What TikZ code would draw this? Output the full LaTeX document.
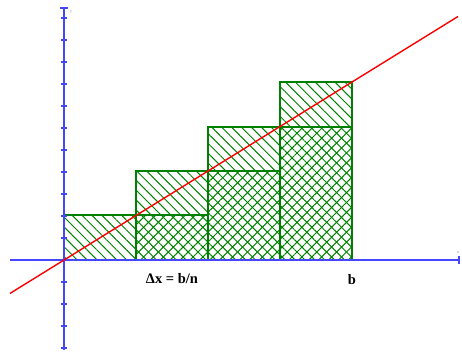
\documentclass[tikz,border=0pt]{standalone}
\usepackage{fontspec}
\setmainfont{Liberation Serif}
\usetikzlibrary{patterns.meta}
\definecolor{axblue}{RGB}{70,70,255}
\definecolor{hgreen}{RGB}{0,128,0}
\definecolor{lred}{RGB}{255,0,0}
\tikzset{
  axisline/.style={draw=axblue, line width=1.4pt},
  tickmark/.style={draw=axblue, line width=1.1pt},
  boxline/.style={draw=hgreen, line width=1.3pt},
  hatchA/.style={pattern={Lines[angle=-45,distance=7pt,line width=1pt]}, pattern color=hgreen},
  hatchB/.style={pattern={Lines[angle=45,distance=7pt,line width=1pt]}, pattern color=hgreen},
  fnline/.style={draw=lred, line width=1.4pt},
  lbl/.style={font=\bfseries\fontsize{14.5}{16}\selectfont, inner sep=0pt},
  axlbl/.style={font=\fontsize{4}{5}\selectfont, text=gray, inner sep=0pt}
}
\begin{document}
\begin{tikzpicture}[x=1pt,y=-1pt]
\useasboundingbox (0,0) rectangle (462,351);
% coordinates
\coordinate (O) at (64,260);
\coordinate (xl) at (10,260);
\coordinate (xr) at (459,260);
\coordinate (yt) at (64,8);
\coordinate (yb) at (64,350);
% upper rectangles (right endpoints)
\path[hatchA] (64,260) rectangle (136,215);
\path[hatchA] (136,260) rectangle (208,171);
\path[hatchA] (208,260) rectangle (280,127);
\path[hatchA] (280,260) rectangle (352,82);
% lower rectangles (left endpoints)
\path[hatchB] (136,260) rectangle (208,215);
\path[hatchB] (208,260) rectangle (280,171);
\path[hatchB] (280,260) rectangle (352,127);
% outlines
\draw[boxline] (64,260) rectangle (136,215);
\draw[boxline] (136,260) rectangle (208,171);
\draw[boxline] (208,260) rectangle (280,127);
\draw[boxline] (280,260) rectangle (352,82);
\draw[boxline] (136,215) -- (208,215);
\draw[boxline] (208,171) -- (280,171);
\draw[boxline] (280,127) -- (352,127);
% axes
\draw[axisline] (xl) -- (xr);
\draw[axisline] (yt) -- (yb);
\foreach \k in {-4,...,11} {
  \draw[tickmark] (61,260-22*\k) -- (67,260-22*\k);
}
\draw[tickmark] (60,8) -- (68,8);
\draw[draw=axblue, line width=2pt] (459,256) -- (459,264);
% function line
\coordinate (fa) at (10,293.4);
\coordinate (fb) at (458,16.5);
\draw[fnline] (fa) -- (fb);
% labels
\node[lbl] (dx) at (172,279) {Δx = b/n};
\node[lbl] (b) at (352,280) {b};
\node[axlbl] (ylab) at (71,12) {y};
\node[axlbl] (xlab) at (458,253) {x};
\end{tikzpicture}
\end{document}
